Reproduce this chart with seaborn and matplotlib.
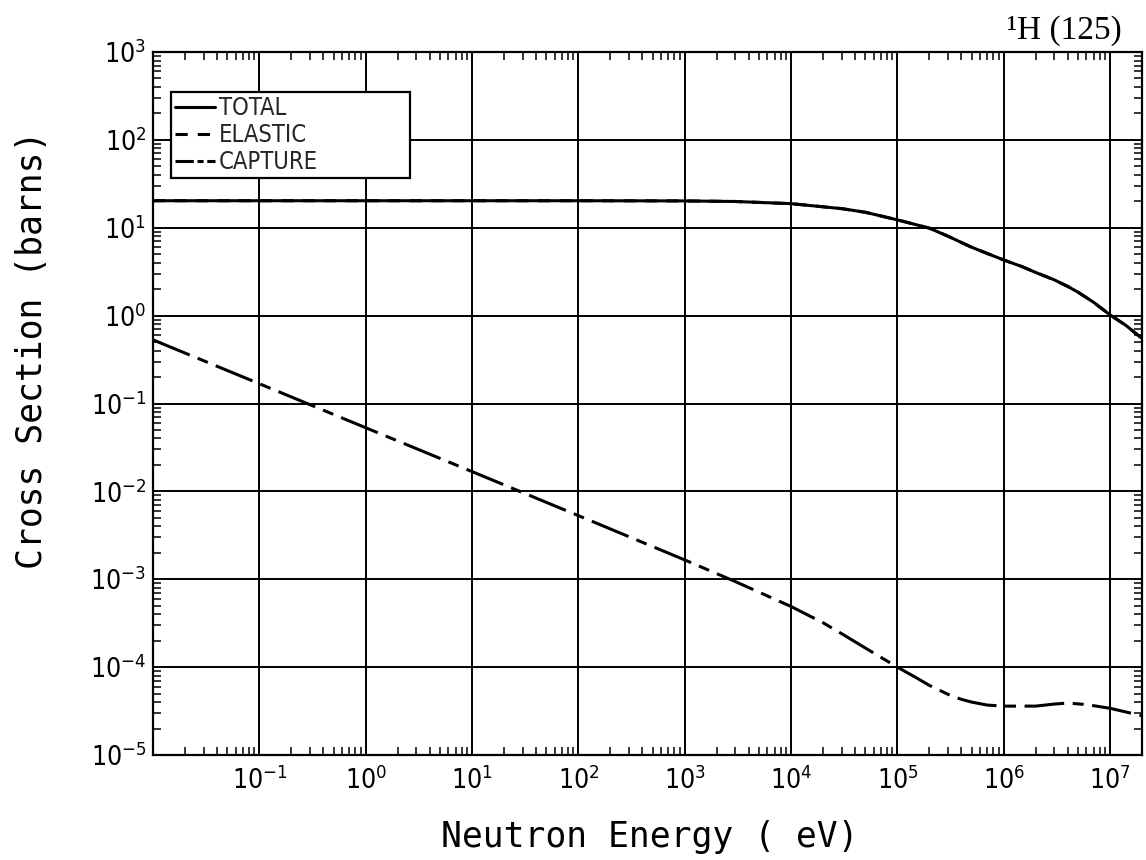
import numpy as np
import pandas as pd
import matplotlib
matplotlib.use("Agg")
import matplotlib.pyplot as plt
from matplotlib.ticker import LogLocator, NullFormatter
from matplotlib.font_manager import FontProperties
import seaborn as sns

# ---------------- data ----------------
total_energy = [1e-2, 1e0, 1e2, 1e3, 3e3, 1e4, 3e4, 5e4, 1e5, 2e5, 3e5,
                5e5, 7e5, 1e6, 1.5e6, 2e6, 3e6, 4e6, 5e6, 7e6, 1e7,
                1.4e7, 2e7]
total_xs = [20.3, 20.3, 20.3, 20.2, 19.9, 18.8, 16.5, 15.0, 12.3, 9.9, 8.0,
            6.0, 5.1, 4.3, 3.6, 3.1, 2.55, 2.15, 1.85, 1.42, 1.02,
            0.78, 0.55]

elastic_energy = total_energy
elastic_xs = [20.3, 20.3, 20.3, 20.2, 19.9, 18.8, 16.5, 15.0, 12.3, 9.9, 8.0,
              6.0, 5.1, 4.3, 3.6, 3.1, 2.55, 2.15, 1.85, 1.42, 1.02,
              0.78, 0.55]

capture_energy = [1e-2, 1e-1, 1e0, 1e1, 1e2, 1e3, 3e3, 1e4, 2e4, 3e4, 5e4,
                  1e5, 1.5e5, 2e5, 3e5, 4e5, 5e5, 7e5, 1e6, 2e6, 3e6, 4e6,
                  6e6, 1e7, 2e7]
capture_xs = [0.53, 0.168, 0.053, 0.0168, 0.0053, 0.00166, 9.4e-4, 4.9e-4,
              3.2e-4, 2.4e-4, 1.65e-4, 1.0e-4, 7.6e-5, 6.2e-5, 4.9e-5,
              4.3e-5, 4.0e-5, 3.7e-5, 3.6e-5, 3.6e-5, 3.8e-5, 3.9e-5,
              3.75e-5, 3.4e-5, 2.8e-5]

series_labels = ["TOTAL", "ELASTIC", "CAPTURE"]
x_tick_values = [1e-1, 1e0, 1e1, 1e2, 1e3, 1e4, 1e5, 1e6, 1e7]
x_tick_labels = [r"$\mathregular{10^{-1}}$", r"$\mathregular{10^{0}}$",
                 r"$\mathregular{10^{1}}$", r"$\mathregular{10^{2}}$",
                 r"$\mathregular{10^{3}}$", r"$\mathregular{10^{4}}$",
                 r"$\mathregular{10^{5}}$", r"$\mathregular{10^{6}}$",
                 r"$\mathregular{10^{7}}$"]
y_tick_values = [1e-5, 1e-4, 1e-3, 1e-2, 1e-1, 1e0, 1e1, 1e2, 1e3]
y_tick_labels = [r"$\mathregular{10^{-5}}$", r"$\mathregular{10^{-4}}$",
                 r"$\mathregular{10^{-3}}$", r"$\mathregular{10^{-2}}$",
                 r"$\mathregular{10^{-1}}$", r"$\mathregular{10^{0}}$",
                 r"$\mathregular{10^{1}}$", r"$\mathregular{10^{2}}$",
                 r"$\mathregular{10^{3}}$"]
title_text = "\u00b9H (125)"
x_label = "Neutron Energy ( eV)"
y_label = "Cross Section (barns)"

# ---------------- style ----------------
sns.set_style("white")
plt.rcParams["font.family"] = ["DejaVu Sans"]
plt.rcParams["mathtext.default"] = "regular"

fig = plt.figure(figsize=(11.46, 8.60), dpi=100)
ax = fig.add_axes([153 / 1146, 1 - 755 / 860, 989 / 1146, 703 / 860])

df_total = pd.DataFrame({"E": total_energy, "xs": total_xs})
df_elastic = pd.DataFrame({"E": elastic_energy, "xs": elastic_xs})
df_capture = pd.DataFrame({"E": capture_energy, "xs": capture_xs})

lw = 2.2
sns.lineplot(data=df_elastic, x="E", y="xs", ax=ax, color="black", lw=lw,
             linestyle=(0, (4.0, 3.0)), label=series_labels[1],
             estimator=None, sort=False, zorder=3)
sns.lineplot(data=df_total, x="E", y="xs", ax=ax, color="black", lw=lw,
             linestyle="-", label=series_labels[0],
             estimator=None, sort=False, zorder=4)
sns.lineplot(data=df_capture, x="E", y="xs", ax=ax, color="black", lw=lw,
             linestyle=(0, (13.0, 2.8, 3.6, 2.8)), label=series_labels[2],
             estimator=None, sort=False, zorder=4)

ax.set_xscale("log")
ax.set_yscale("log")
ax.set_xlim(1e-2, 2e7)
ax.set_ylim(1e-5, 1e3)

# grid
ax.grid(False)
for v in x_tick_values:
    ax.axvline(v, color="black", lw=1.4, zorder=1)
for v in y_tick_values[1:-1]:
    ax.axhline(v, color="black", lw=1.4, zorder=1)

for s in ax.spines.values():
    s.set_color("black")
    s.set_linewidth(1.6)
    s.set_visible(True)

tick_fp = FontProperties(family="DejaVu Sans", stretch="condensed", size=19)
ax.set_xticks(x_tick_values)
ax.set_xticklabels(x_tick_labels)
ax.set_yticks(y_tick_values)
ax.set_yticklabels(y_tick_labels)
for t in ax.get_xticklabels() + ax.get_yticklabels():
    t.set_fontproperties(tick_fp)
ax.xaxis.set_minor_locator(LogLocator(base=10, subs=np.arange(2, 10), numticks=100))
ax.yaxis.set_minor_locator(LogLocator(base=10, subs=np.arange(2, 10), numticks=100))
ax.xaxis.set_minor_formatter(NullFormatter())
ax.yaxis.set_minor_formatter(NullFormatter())
ax.tick_params(which="major", direction="in", length=0, top=True, right=True,
               colors="black")
ax.tick_params(axis="x", which="major", pad=8)
ax.tick_params(axis="y", which="major", pad=5)
ax.tick_params(which="minor", direction="in", length=6, width=1.1,
               top=True, right=True, bottom=True, left=True, colors="black")

ax.set_xlabel(x_label, fontsize=25, family="DejaVu Sans Mono", color="black")
ax.set_ylabel(y_label, fontsize=25, family="DejaVu Sans Mono", color="black")
ax.xaxis.set_label_coords(0.502, -0.092)
ax.yaxis.set_label_coords(-0.105, 0.576)

# legend
handles, labels = ax.get_legend_handles_labels()
order = [labels.index(l) for l in series_labels]
leg = ax.legend([handles[i] for i in order], [labels[i] for i in order],
                loc="upper left",
                bbox_to_anchor=((171 - 153) / 989, (755 - 92) / 703,
                                239 / 989, 0.0),
                mode="expand", borderaxespad=0, frameon=True, fancybox=False,
                framealpha=1, edgecolor="black", handlelength=1.7,
                handletextpad=0.15, labelspacing=0.12, borderpad=0.18,
                prop=FontProperties(family="DejaVu Sans", stretch="condensed",
                                    size=17))
leg.get_frame().set_linewidth(1.6)
leg.set_zorder(10)
leg_lines = leg.get_lines()
leg_lines[1].set_linestyle((0, (4.0, 3.3)))
leg_lines[2].set_linestyle((0, (6.0, 1.2, 2.0, 1.2)))

fig.text(1122 / 1146, 1 - 39 / 860, title_text, ha="right", va="baseline",
         fontsize=24, family=["Liberation Serif", "DejaVu Serif"],
         color="black")

fig.savefig("out.png", dpi=100, facecolor="white")
